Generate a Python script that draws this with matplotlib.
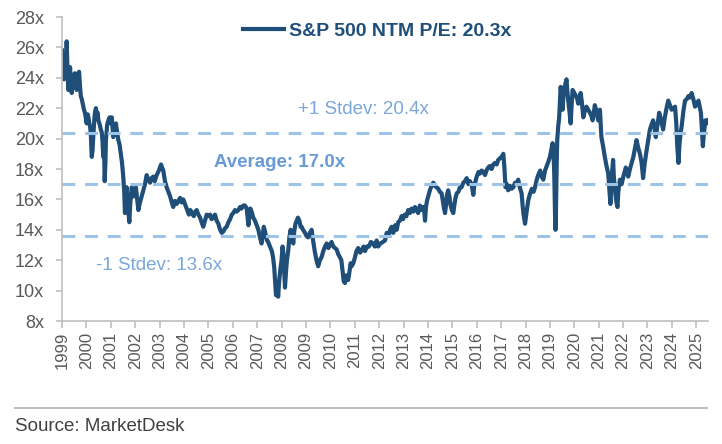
#!/usr/bin/env python3
"""
S&P 500 NTM P/E with average and +/-1 stdev bands
"""

import matplotlib
matplotlib.use("Agg")
import matplotlib.pyplot as plt
from matplotlib.ticker import FixedLocator, FuncFormatter

plt.rcParams['font.family'] = ['Liberation Sans', 'DejaVu Sans']

# Fractional year of each reading (as placed on the chart's axis)
dates = [
    1999.00, 1999.04, 1999.08, 1999.12, 1999.16, 1999.19, 1999.23, 1999.26, 1999.30, 1999.33,
    1999.37, 1999.40, 1999.45, 1999.49, 1999.53, 1999.57, 1999.60, 1999.65, 1999.70, 1999.73,
    1999.77, 1999.81, 1999.85, 1999.90, 1999.94, 2000.01, 2000.05, 2000.08, 2000.12, 2000.15,
    2000.18, 2000.22, 2000.25, 2000.28, 2000.33, 2000.36, 2000.39, 2000.43, 2000.46, 2000.49,
    2000.55, 2000.59, 2000.63, 2000.66, 2000.69, 2000.72, 2000.75, 2000.78, 2000.80, 2000.85,
    2000.90, 2000.95, 2001.00, 2001.04, 2001.07, 2001.10, 2001.15, 2001.21, 2001.26, 2001.31,
    2001.36, 2001.41, 2001.46, 2001.51, 2001.55, 2001.58, 2001.62, 2001.65, 2001.70, 2001.76,
    2001.80, 2001.86, 2001.92, 2001.97, 2002.03, 2002.08, 2002.13, 2002.18, 2002.23, 2002.28,
    2002.33, 2002.40, 2002.47, 2002.54, 2002.61, 2002.67, 2002.74, 2002.80, 2002.88, 2002.97,
    2003.06, 2003.10, 2003.15, 2003.22, 2003.29, 2003.36, 2003.43, 2003.50, 2003.56, 2003.63,
    2003.70, 2003.77, 2003.84, 2003.90, 2003.97, 2004.04, 2004.11, 2004.20, 2004.26, 2004.32,
    2004.40, 2004.46, 2004.52, 2004.59, 2004.66, 2004.72, 2004.79, 2004.86, 2004.93, 2005.00,
    2005.07, 2005.13, 2005.20, 2005.27, 2005.34, 2005.41, 2005.48, 2005.55, 2005.62, 2005.68,
    2005.75, 2005.82, 2005.89, 2005.96, 2006.02, 2006.09, 2006.16, 2006.23, 2006.30, 2006.36,
    2006.43, 2006.50, 2006.57, 2006.61, 2006.64, 2006.68, 2006.72, 2006.77, 2006.84, 2006.91,
    2006.98, 2007.05, 2007.10, 2007.15, 2007.18, 2007.23, 2007.27, 2007.32, 2007.36, 2007.40,
    2007.45, 2007.50, 2007.55, 2007.60, 2007.65, 2007.70, 2007.74, 2007.77, 2007.82, 2007.86,
    2007.90, 2007.95, 2008.00, 2008.04, 2008.07, 2008.10, 2008.14, 2008.18, 2008.22, 2008.27,
    2008.32, 2008.37, 2008.42, 2008.48, 2008.52, 2008.57, 2008.62, 2008.67, 2008.73, 2008.78,
    2008.82, 2008.88, 2008.96, 2009.02, 2009.09, 2009.16, 2009.23, 2009.30, 2009.37, 2009.43,
    2009.50, 2009.57, 2009.64, 2009.71, 2009.78, 2009.85, 2009.92, 2009.98, 2010.05, 2010.12,
    2010.19, 2010.26, 2010.32, 2010.39, 2010.45, 2010.50, 2010.55, 2010.60, 2010.65, 2010.70,
    2010.73, 2010.78, 2010.83, 2010.87, 2010.94, 2011.01, 2011.07, 2011.14, 2011.22, 2011.30,
    2011.36, 2011.42, 2011.50, 2011.58, 2011.66, 2011.75, 2011.82, 2011.90, 2011.96, 2012.05,
    2012.15, 2012.24, 2012.31, 2012.38, 2012.45, 2012.51, 2012.58, 2012.65, 2012.72, 2012.78,
    2012.85, 2012.92, 2012.98, 2013.05, 2013.12, 2013.19, 2013.26, 2013.33, 2013.40, 2013.47,
    2013.53, 2013.60, 2013.67, 2013.74, 2013.81, 2013.85, 2013.88, 2013.92, 2013.96, 2014.01,
    2014.08, 2014.15, 2014.22, 2014.28, 2014.35, 2014.42, 2014.49, 2014.56, 2014.62, 2014.66,
    2014.70, 2014.74, 2014.78, 2014.83, 2014.88, 2014.93, 2014.98, 2015.04, 2015.08, 2015.13,
    2015.18, 2015.25, 2015.31, 2015.38, 2015.45, 2015.52, 2015.59, 2015.66, 2015.72, 2015.79,
    2015.83, 2015.86, 2015.90, 2015.95, 2016.00, 2016.07, 2016.13, 2016.20, 2016.27, 2016.34,
    2016.40, 2016.47, 2016.54, 2016.61, 2016.68, 2016.75, 2016.82, 2016.88, 2016.95, 2017.02,
    2017.09, 2017.13, 2017.18, 2017.23, 2017.29, 2017.36, 2017.43, 2017.50, 2017.57, 2017.63,
    2017.70, 2017.75, 2017.80, 2017.84, 2017.88, 2017.92, 2017.98, 2018.03, 2018.08, 2018.12,
    2018.19, 2018.26, 2018.33, 2018.39, 2018.46, 2018.52, 2018.60, 2018.66, 2018.73, 2018.80,
    2018.87, 2018.94, 2019.00, 2019.05, 2019.11, 2019.15, 2019.18, 2019.21, 2019.23, 2019.25,
    2019.28, 2019.30, 2019.34, 2019.38, 2019.41, 2019.44, 2019.48, 2019.52, 2019.55, 2019.57,
    2019.62, 2019.68, 2019.71, 2019.75, 2019.80, 2019.85, 2019.89, 2019.93, 2020.00, 2020.07,
    2020.12, 2020.16, 2020.21, 2020.26, 2020.31, 2020.37, 2020.43, 2020.50, 2020.57, 2020.64,
    2020.70, 2020.75, 2020.80, 2020.84, 2020.91, 2020.98, 2021.05, 2021.08, 2021.11, 2021.18,
    2021.25, 2021.32, 2021.39, 2021.44, 2021.48, 2021.52, 2021.55, 2021.59, 2021.62, 2021.66,
    2021.71, 2021.74, 2021.77, 2021.80, 2021.84, 2021.87, 2021.94, 2022.01, 2022.06, 2022.11,
    2022.16, 2022.21, 2022.28, 2022.35, 2022.42, 2022.48, 2022.55, 2022.62, 2022.69, 2022.76,
    2022.82, 2022.88, 2022.96, 2023.03, 2023.10, 2023.16, 2023.23, 2023.28, 2023.34, 2023.41,
    2023.48, 2023.56, 2023.64, 2023.70, 2023.78, 2023.85, 2023.92, 2023.99, 2024.06, 2024.13,
    2024.18, 2024.22, 2024.27, 2024.31, 2024.36, 2024.40, 2024.47, 2024.54, 2024.61, 2024.68,
    2024.74, 2024.81, 2024.88, 2024.95, 2025.02, 2025.09, 2025.14, 2025.19, 2025.23, 2025.27,
    2025.31, 2025.37, 2025.43, 2025.47,
]

# Forward 12m P/E at each date
pe = [
    25.8, 24.5, 23.9, 25.0, 24.0, 26.4, 24.2, 23.2, 24.1, 24.7,
    23.4, 23.0, 24.2, 23.6, 24.3, 23.5, 23.2, 24.0, 24.4, 23.6,
    22.8, 22.6, 22.3, 21.9, 21.7, 21.0, 21.6, 21.4, 21.0, 20.8,
    20.3, 18.8, 19.2, 20.1, 21.4, 21.8, 22.0, 21.5, 21.7, 21.2,
    20.9, 20.6, 20.4, 19.8, 18.8, 19.5, 17.2, 18.5, 19.9, 20.9,
    21.2, 21.4, 21.0, 21.4, 20.7, 20.1, 20.6, 21.0, 20.4, 19.9,
    19.6, 19.0, 18.4, 17.5, 16.5, 15.1, 16.0, 16.8, 15.5, 14.5,
    15.8, 16.8, 16.2, 16.5, 16.8, 16.0, 15.3, 15.7, 16.0, 16.3,
    16.6, 17.0, 17.6, 17.3, 17.1, 17.4, 17.5, 17.2, 17.6, 17.9,
    18.3, 18.1, 17.9, 17.2, 16.8, 16.5, 16.2, 15.8, 15.5, 15.9,
    15.7, 15.9, 16.1, 15.8, 16.0, 15.7, 15.4, 15.0, 15.3, 15.1,
    14.9, 15.2, 15.3, 15.0, 14.8, 14.5, 14.2, 14.6, 15.0, 14.9,
    15.0, 14.7, 14.8, 15.0, 14.6, 14.4, 14.0, 13.8, 13.9, 14.1,
    14.2, 14.5, 14.7, 15.0, 15.1, 15.3, 15.2, 15.3, 15.5, 15.4,
    15.6, 15.6, 15.4, 14.8, 14.3, 14.9, 15.4, 15.2, 14.8, 14.6,
    14.3, 14.0, 13.6, 13.3, 13.1, 13.7, 14.2, 13.9, 13.6, 13.3,
    13.2, 13.0, 12.8, 12.6, 12.2, 11.5, 10.5, 9.7, 10.3, 9.6,
    10.6, 11.4, 12.0, 12.9, 12.5, 11.5, 10.2, 11.2, 12.0, 12.6,
    13.5, 14.0, 13.6, 13.1, 13.9, 14.4, 14.6, 14.8, 14.6, 14.2,
    14.2, 14.0, 13.8, 13.6, 13.5, 13.8, 14.0, 13.2, 12.5, 12.0,
    11.6, 12.0, 12.2, 12.6, 12.9, 13.1, 12.8, 13.0, 13.2, 12.9,
    12.8, 12.7, 12.4, 12.2, 12.0, 11.3, 10.6, 10.5, 11.0, 10.7,
    10.7, 11.2, 11.8, 11.6, 11.8, 12.2, 12.6, 12.8, 12.5, 12.7,
    12.9, 12.6, 12.9, 12.9, 13.2, 13.1, 12.9, 13.3, 12.9, 13.1,
    13.2, 13.3, 13.8, 13.6, 14.0, 14.2, 13.8, 14.3, 14.0, 14.5,
    14.6, 14.9, 14.7, 15.0, 14.9, 15.3, 15.1, 15.4, 15.2, 15.5,
    15.3, 15.1, 15.6, 15.3, 15.5, 15.2, 14.6, 15.5, 15.9, 16.2,
    16.6, 16.9, 17.1, 16.9, 16.8, 16.7, 16.5, 16.4, 15.8, 15.4,
    15.1, 15.6, 16.3, 16.6, 16.2, 15.6, 15.3, 15.1, 15.6, 16.1,
    16.4, 16.5, 16.8, 16.8, 17.1, 17.2, 17.4, 17.0, 17.2, 17.0,
    16.6, 16.3, 16.9, 17.2, 17.5, 17.8, 17.7, 17.9, 17.8, 17.6,
    17.9, 18.1, 18.2, 18.0, 18.3, 18.4, 18.3, 18.6, 18.7, 18.8,
    19.0, 18.2, 16.8, 17.0, 16.6, 16.9, 16.7, 16.8, 17.1, 17.0,
    17.3, 16.9, 16.6, 16.4, 15.6, 15.0, 14.4, 15.0, 15.6, 16.0,
    16.4, 16.7, 16.5, 16.8, 17.3, 17.6, 17.9, 17.5, 17.3, 17.9,
    18.2, 18.5, 18.8, 19.2, 19.7, 19.0, 17.5, 15.0, 14.0, 15.5,
    18.5, 19.9, 20.8, 21.4, 22.4, 23.4, 22.8, 21.9, 22.7, 23.2,
    23.5, 23.9, 23.2, 22.5, 21.8, 21.0, 22.2, 23.2, 23.0, 22.8,
    22.6, 22.3, 22.7, 23.0, 22.4, 21.4, 21.8, 22.1, 21.9, 21.7,
    21.5, 21.2, 21.7, 22.2, 21.8, 21.2, 21.9, 21.0, 20.1, 19.5,
    18.8, 18.2, 17.7, 16.6, 15.7, 16.8, 17.8, 18.6, 17.5, 16.8,
    16.0, 15.7, 15.5, 16.4, 17.0, 17.3, 17.0, 17.5, 17.8, 18.1,
    17.8, 17.5, 18.0, 18.4, 18.8, 19.3, 19.9, 19.4, 19.0, 18.4,
    17.4, 18.3, 19.2, 19.9, 20.6, 20.9, 21.2, 20.8, 20.1, 20.9,
    21.7, 21.2, 20.6, 21.3, 22.0, 22.5, 22.2, 21.9, 22.0, 22.1,
    21.0, 19.5, 18.4, 19.6, 20.4, 20.8, 21.8, 22.5, 22.6, 22.8,
    22.7, 23.0, 22.6, 22.1, 22.3, 22.5, 22.1, 21.7, 20.6, 19.5,
    20.3, 21.2, 21.0, 21.2,
]

years = list(range(1999, 2026))
y_ticks = [8, 10, 12, 14, 16, 18, 20, 22, 24, 26, 28]

current_pe = 20.3
average = 17.0
plus_1sd = 20.4
minus_1sd = 13.6

LINE_COLOR = '#1F4E79'
BAND_COLOR = '#9DC3E6'
LABEL_COLOR = '#7BA7DA'
AVG_COLOR = '#6A9BD6'
AXIS_GRAY = '#BFBFBF'
TICK_TEXT = '#595959'


def main():
    fig = plt.figure(figsize=(7.22, 4.44), dpi=100)
    ax = fig.add_axes([0.0859, 0.277, 0.8947, 0.6847])

    ax.plot(dates, pe, color=LINE_COLOR, linewidth=3.0,
            label=f'S&P 500 NTM P/E: {current_pe:.1f}x', zorder=2)

    # Average and +/-1 stdev bands, drawn over the series
    for level in (plus_1sd, average, minus_1sd):
        ax.axhline(level, color=BAND_COLOR, linewidth=2.2, dashes=(4.2, 3.2), zorder=3)

    ax.text(2011.34, 21.9, f'+1 Stdev: {plus_1sd:.1f}x', color=LABEL_COLOR,
            fontsize=13.5, ha='center', va='center')
    ax.text(2007.93, 18.4, f'Average: {average:.1f}x', color=AVG_COLOR,
            fontsize=13.5, fontweight='bold', ha='center', va='center')
    ax.text(2002.98, 11.68, f'-1 Stdev: {minus_1sd:.1f}x', color=LABEL_COLOR,
            fontsize=13.5, ha='center', va='center')

    ax.set_xlim(1999, 2025.48)
    ax.set_ylim(8, 28)
    ax.xaxis.set_major_locator(FixedLocator(years))
    ax.set_xticklabels([str(y) for y in years], rotation=90)
    ax.yaxis.set_major_locator(FixedLocator(y_ticks))
    ax.yaxis.set_major_formatter(FuncFormatter(lambda v, _: f'{v:.0f}x'))

    for side in ('top', 'right'):
        ax.spines[side].set_visible(False)
    for side in ('left', 'bottom'):
        ax.spines[side].set_color(AXIS_GRAY)
        ax.spines[side].set_linewidth(1.2)
    ax.tick_params(axis='x', length=5, width=1.2, color=AXIS_GRAY,
                   labelcolor=TICK_TEXT, labelsize=12, pad=3)
    ax.tick_params(axis='y', length=4, width=1.2, color=AXIS_GRAY,
                   labelcolor=TICK_TEXT, labelsize=13, pad=9)

    leg = ax.legend(loc='center', bbox_to_anchor=(0.522, 0.930),
                    bbox_transform=fig.transFigure, frameon=False,
                    handlelength=2.1, handletextpad=0.26,
                    prop={'size': 14, 'weight': 'bold'})
    for txt in leg.get_texts():
        txt.set_color(LINE_COLOR)

    # Source footer
    fig.add_artist(plt.Line2D([15 / 722, 707 / 722], [1 - 408 / 444, 1 - 408 / 444],
                              transform=fig.transFigure, color=AXIS_GRAY, linewidth=1.5))
    fig.text(15 / 722, 1 - 426 / 444, 'Source: MarketDesk', color='#404040',
             fontsize=13.5, ha='left', va='center')

    fig.savefig('out.png', dpi=100)


if __name__ == '__main__':
    main()
